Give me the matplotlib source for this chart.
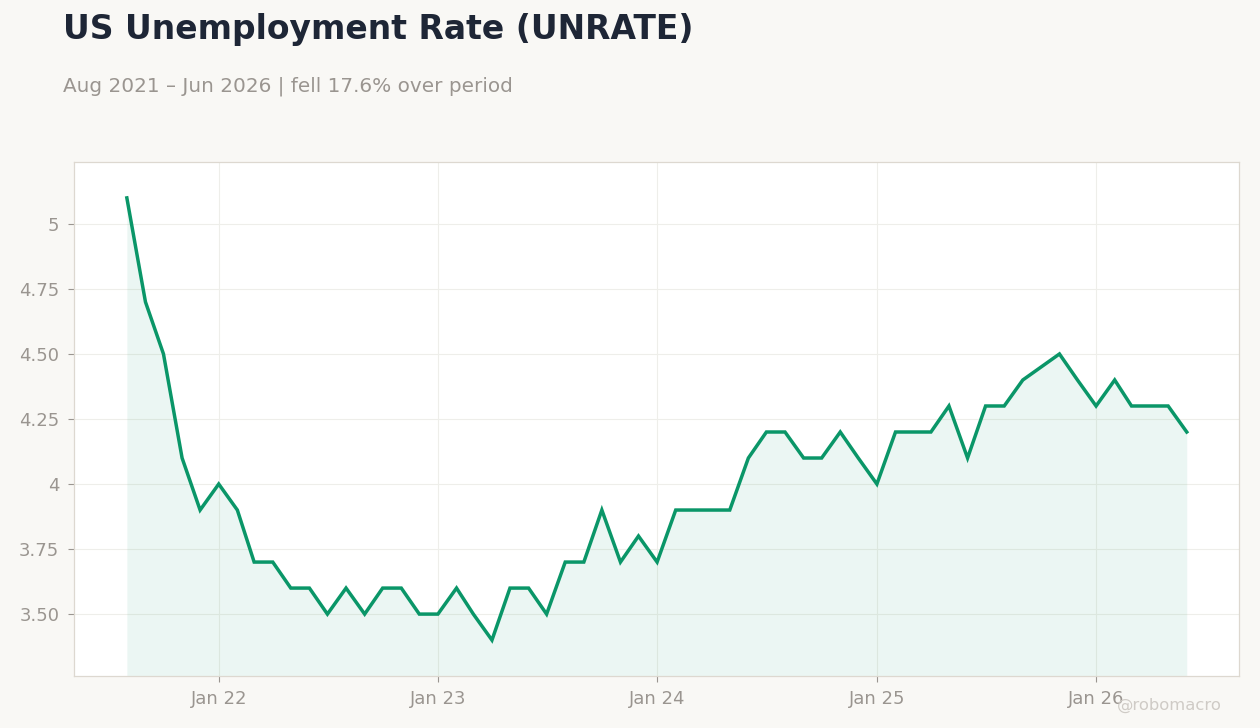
import matplotlib
matplotlib.use("Agg")
import matplotlib.pyplot as plt
import matplotlib.dates as mdates
import numpy as np
import datetime as dt

# monthly UNRATE, Aug 2021 .. Jun 2026 (no Oct 2025 print)
months = [(2021, m) for m in range(8, 13)] + \
         [(2022, m) for m in range(1, 13)] + \
         [(2023, m) for m in range(1, 13)] + \
         [(2024, m) for m in range(1, 13)] + \
         [(2025, m) for m in range(1, 13) if m != 10] + \
         [(2026, m) for m in range(1, 7)]

rate = [5.1, 4.7, 4.5, 4.1, 3.9,
        4.0, 3.9, 3.7, 3.7, 3.6, 3.6, 3.5, 3.6, 3.5, 3.6, 3.6, 3.5,
        3.5, 3.6, 3.5, 3.4, 3.6, 3.6, 3.5, 3.7, 3.7, 3.9, 3.7, 3.8,
        3.7, 3.9, 3.9, 3.9, 3.9, 4.1, 4.2, 4.2, 4.1, 4.1, 4.2, 4.1,
        4.0, 4.2, 4.2, 4.2, 4.3, 4.1, 4.3, 4.3, 4.4, 4.5, 4.4,
        4.3, 4.4, 4.3, 4.3, 4.3, 4.2]

ytick_vals = [3.5, 3.75, 4.0, 4.25, 4.5, 4.75, 5.0]
ytick_labels = ["3.50", "3.75", "4", "4.25", "4.50", "4.75", "5"]
xtick_years = [2022, 2023, 2024, 2025, 2026]
xtick_labels = ["Jan 22", "Jan 23", "Jan 24", "Jan 25", "Jan 26"]

dates = [dt.date(y, m, 1) for y, m in months]

green = "#0a9668"
bg = "#f9f8f5"
muted = "#9a9590"

fig = plt.figure(figsize=(12.6, 7.28), dpi=100, facecolor=bg)
ax = fig.add_axes([74 / 1260, 1 - 676 / 728, (1239 - 74) / 1260, (676 - 162) / 728])
ax.set_facecolor("white")

ax.fill_between(dates, rate, 3.0, color=green, alpha=0.08, linewidth=0)
ax.plot(dates, rate, color=green, linewidth=2.5, solid_joinstyle="miter")

ax.set_ylim(3.262, 5.238)
ax.set_xlim(dt.date(2021, 5, 5), dt.date(2026, 8, 27))

ax.set_yticks(ytick_vals)
ax.set_yticklabels(ytick_labels)
ax.set_xticks([dt.date(y, 1, 1) for y in xtick_years])
ax.set_xticklabels(xtick_labels)

ax.grid(True, color="#eeeeea", linewidth=0.8)
ax.set_axisbelow(True)
ax.tick_params(colors=muted, labelsize=13, length=4, width=0.8)
ax.tick_params(axis="x", pad=6)
ax.tick_params(axis="y", pad=6.5)
for s in ax.spines.values():
    s.set_color("#ddd8d0")
    s.set_linewidth(0.9)

fig.text(63 / 1260, 1 - 30 / 728, "US Unemployment Rate (UNRATE)", fontsize=23.8,
         fontweight="bold", color="#1e2636", va="center", ha="left")
fig.text(63 / 1260, 1 - 86 / 728, "Aug 2021 \u2013 Jun 2026 | fell 17.6% over period",
         fontsize=14.4, color=muted, va="center", ha="left")
fig.text(1222 / 1260, 1 - 705 / 728, "@robomacro", fontsize=11.8, color="#cfcbc6",
         va="center", ha="right")

fig.savefig("out.png", dpi=100, facecolor=bg)
